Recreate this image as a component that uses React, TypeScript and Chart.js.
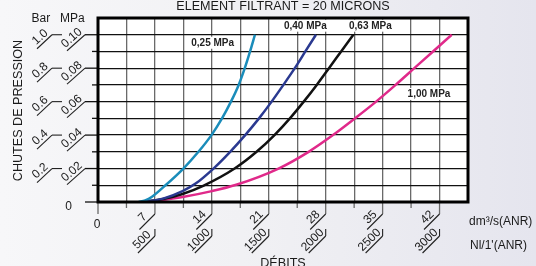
import React, { useEffect, useRef } from "react";
import { Chart, registerables } from "chart.js";

Chart.register(...registerables);

const FONT = "'Liberation Sans', Arial, Helvetica, sans-serif";

// ---- data (x: dm3/s ANR, y: MPa pressure drop) ----
const flow025 = [5.0, 5.8, 6.6, 8.3, 10.5, 12.35, 13.95, 15.25, 16.35, 17.3, 18.05, 18.7, 19.3];
const drop025 = [0, 0.001, 0.003, 0.01, 0.02, 0.03, 0.04, 0.05, 0.06, 0.07, 0.08, 0.09, 0.1];
const flow040 = [5.5, 8.0, 10.4, 12.0, 14.2, 16.25, 18.1, 19.8, 21.35, 22.8, 24.2, 25.5, 26.8];
const drop040 = [0, 0.002, 0.0065, 0.011, 0.02, 0.03, 0.04, 0.05, 0.06, 0.07, 0.08, 0.09, 0.1];
const flow063 = [5.5, 8.0, 10.4, 13.0, 16.8, 19.5, 21.7, 23.6, 25.3, 26.9, 28.4, 29.9, 31.4];
const drop063 = [0, 0.0018, 0.0048, 0.0098, 0.02, 0.03, 0.04, 0.05, 0.06, 0.07, 0.08, 0.09, 0.1];
const flow100 = [6.0, 10.4, 14.0, 17.0, 22.2, 25.9, 28.9, 31.6, 34.2, 36.6, 38.9, 41.2, 43.5];
const drop100 = [0, 0.003, 0.0065, 0.0103, 0.02, 0.03, 0.04, 0.05, 0.06, 0.07, 0.08, 0.09, 0.1];

const seriesNames = ["0,25 MPa", "0,40 MPa", "0,63 MPa", "1,00 MPa"];
const seriesColors = ["#1a8cba", "#2a3990", "#111111", "#e0298a"];
// label anchor positions in data space
const labelFlow = [14.1, 25.5, 33.5, 40.7];
const labelDrop = [0.0952, 0.1054, 0.1054, 0.0646];

// ---- axis tick labels ----
const flowTicks = [7, 14, 21, 28, 35, 42];
const flowLabels = ["7", "14", "21", "28", "35", "42"];
const nlLabels = ["500", "1000", "1500", "2000", "2500", "3000"];
const mpaTicks = [0.02, 0.04, 0.06, 0.08, 0.1];
const mpaLabels = ["0.02", "0.04", "0.06", "0.08", "0.10"];
const barLabels = ["0.2", "0.4", "0.6", "0.8", "1.0"];

const X_MAX = 45.5;
const X_STEP = 3.5;
const Y_MAX = 0.11;
const Y_STEP = 0.01;

function pts(xs: number[], ys: number[]) {
  return xs.map((x, i) => ({ x, y: ys[i] }));
}

function slantLabel(
  ctx: CanvasRenderingContext2D,
  text: string,
  x1: number,
  y1: number,
  dx: number,
  dy: number
) {
  ctx.beginPath();
  ctx.moveTo(x1, y1);
  ctx.lineTo(x1 - dx, y1 + dy);
  ctx.stroke();
  const ang = Math.atan2(-dy, dx);
  const mx = x1 - dx / 2;
  const my = y1 + dy / 2;
  ctx.save();
  ctx.translate(mx, my);
  ctx.rotate(ang);
  ctx.textAlign = "center";
  ctx.textBaseline = "alphabetic";
  ctx.fillText(text, 0, -3);
  ctx.restore();
}

const decorPlugin = {
  id: "decor",
  beforeDraw(chart: any) {
    const { ctx, chartArea: a } = chart;
    ctx.save();
    ctx.fillStyle = "#ffffff";
    ctx.fillRect(a.left, a.top, a.right - a.left, a.bottom - a.top);
    ctx.restore();
  },
  afterDatasetsDraw(chart: any) {
    const { ctx } = chart;
    const xs = chart.scales.x;
    const ys = chart.scales.y;
    ctx.save();
    ctx.font = `bold 10px ${FONT}`;
    ctx.textAlign = "center";
    ctx.textBaseline = "middle";
    seriesNames.forEach((name, i) => {
      const cx = xs.getPixelForValue(labelFlow[i]);
      const cy = ys.getPixelForValue(labelDrop[i]);
      const w = ctx.measureText(name).width + 4;
      ctx.fillStyle = "#ffffff";
      ctx.fillRect(cx - w / 2, cy - 6, w, 12);
      ctx.fillStyle = "#222222";
      ctx.fillText(name, cx, cy + 0.5);
    });
    ctx.restore();
  },
  afterDraw(chart: any) {
    const { ctx, chartArea: a } = chart;
    const xs = chart.scales.x;
    const ys = chart.scales.y;
    ctx.save();

    // y tick extensions to the left
    ctx.strokeStyle = "#111111";
    ctx.lineWidth = 1.3;
    ys.ticks.forEach((t: any) => {
      const v = t.value;
      if (v > Y_MAX - 1e-6) return;
      const k = Math.round(v / Y_STEP);
      const y = ys.getPixelForValue(v);
      const len = k % 2 === 0 ? 13 : 6;
      ctx.beginPath();
      ctx.moveTo(a.left - len, y);
      ctx.lineTo(a.left, y);
      ctx.stroke();
    });

    // x tick extensions below
    xs.ticks.forEach((t: any) => {
      const v = t.value;
      if (v > X_MAX - 1e-6) return;
      const k = Math.round(v / X_STEP);
      const x = xs.getPixelForValue(v);
      const len = k % 2 === 0 ? 12 : 6;
      ctx.strokeStyle = "#6a6a6a";
      ctx.beginPath();
      ctx.moveTo(x, a.bottom);
      ctx.lineTo(x, a.bottom + len);
      ctx.stroke();
    });

    ctx.fillStyle = "#1a1a1a";
    ctx.strokeStyle = "#222222";
    ctx.lineWidth = 1.1;
    ctx.font = `12px ${FONT}`;

    // x labels (dm3/s row + Nl/min row)
    flowTicks.forEach((v, i) => {
      const x = xs.getPixelForValue(v);
      slantLabel(ctx, flowLabels[i], x, a.bottom + 12, 15.5, 15.5);
      ctx.beginPath();
      ctx.moveTo(x, a.bottom + 27);
      ctx.lineTo(x, a.bottom + 34);
      ctx.stroke();
      slantLabel(ctx, nlLabels[i], x, a.bottom + 34, 17, 17);
    });

    // y labels (MPa + bar)
    mpaTicks.forEach((v, i) => {
      const y = ys.getPixelForValue(v);
      slantLabel(ctx, mpaLabels[i], a.left - 13, y, 18, 16);
      const bx = a.left - 46;
      ctx.beginPath();
      ctx.moveTo(bx, y);
      ctx.lineTo(bx + 10, y);
      ctx.stroke();
      slantLabel(ctx, barLabels[i], bx, y, 15, 14);
    });

    // zero labels
    ctx.textAlign = "center";
    ctx.textBaseline = "middle";
    ctx.fillText("0", a.left - 29.5, ys.getPixelForValue(0) + 4.5);
    ctx.fillText("0", xs.getPixelForValue(0) - 1, a.bottom + 22.5);

    // thick frame
    ctx.strokeStyle = "#000000";
    ctx.lineWidth = 3;
    ctx.strokeRect(a.left, a.top, a.right - a.left, a.bottom - a.top);

    // titles
    ctx.fillStyle = "#1a1a1a";
    ctx.font = `12.6px ${FONT}`;
    ctx.textAlign = "center";
    ctx.textBaseline = "middle";
    ctx.fillText("ELEMENT FILTRANT = 20 MICRONS", (a.left + a.right) / 2, 7);
    ctx.textBaseline = "alphabetic";
    ctx.fillText("DÉBITS", (a.left + a.right) / 2, 267);

    ctx.save();
    ctx.translate(18.5, 110.5);
    ctx.rotate(-Math.PI / 2);
    ctx.textBaseline = "middle";
    ctx.fillText("CHUTES DE PRESSION", 0, 0);
    ctx.restore();

    ctx.font = `12px ${FONT}`;
    ctx.textAlign = "left";
    ctx.textBaseline = "middle";
    ctx.fillText("Bar", 31.5, 18.5);
    ctx.fillText("MPa", 60, 18.5);

    ctx.textBaseline = "alphabetic";
    ctx.fillText("dm³/s(ANR)", a.right + 1, 224.5);
    ctx.fillText("Nl/1'(ANR)", a.right + 2, 249);

    ctx.restore();
  },
};

export default function App() {
  const ref = useRef<HTMLCanvasElement>(null);

  useEffect(() => {
    const prevMargin = document.body.style.margin;
    document.body.style.margin = "0";
    if (!ref.current) return;
    const sets = [
      pts(flow025, drop025),
      pts(flow040, drop040),
      pts(flow063, drop063),
      pts(flow100, drop100),
    ];
    const chart = new Chart(ref.current, {
      type: "line",
      data: {
        datasets: sets.map((d, i) => ({
          label: seriesNames[i],
          data: d,
          borderColor: seriesColors[i],
          borderWidth: 2.5,
          pointRadius: 0,
          fill: false,
          cubicInterpolationMode: "monotone" as const,
        })),
      },
      options: {
        animation: false,
        responsive: false,
        devicePixelRatio: 1,
        layout: { padding: { left: 98, right: 68, top: 18, bottom: 64 } },
        plugins: {
          legend: { display: false },
          tooltip: { enabled: false },
          title: { display: false },
        },
        scales: {
          x: {
            type: "linear",
            min: 0,
            max: X_MAX,
            ticks: { display: false, stepSize: X_STEP },
            grid: { color: "#6a6a6a", lineWidth: 1.3, drawTicks: false },
            border: { display: false },
            afterFit: (s: any) => {
              s.height = 0;
            },
          },
          y: {
            type: "linear",
            min: 0,
            max: Y_MAX,
            ticks: { display: false, stepSize: Y_STEP },
            grid: { color: "#111111", lineWidth: 1.3, drawTicks: false },
            border: { display: false },
            afterFit: (s: any) => {
              s.width = 0;
            },
          },
        },
      },
      plugins: [decorPlugin],
    });
    return () => {
      chart.destroy();
      document.body.style.margin = prevMargin;
    };
  }, []);

  return (
    <div
      style={{
        position: "absolute",
        left: 0,
        top: 0,
        width: 536,
        height: 266,
        overflow: "hidden",
        background: "linear-gradient(90deg, #f7f7f9 0%, #f1f1f4 45%, #e5e5ee 100%)",
      }}
    >
      <canvas ref={ref} width={536} height={266} style={{ display: "block" }} />
    </div>
  );
}
